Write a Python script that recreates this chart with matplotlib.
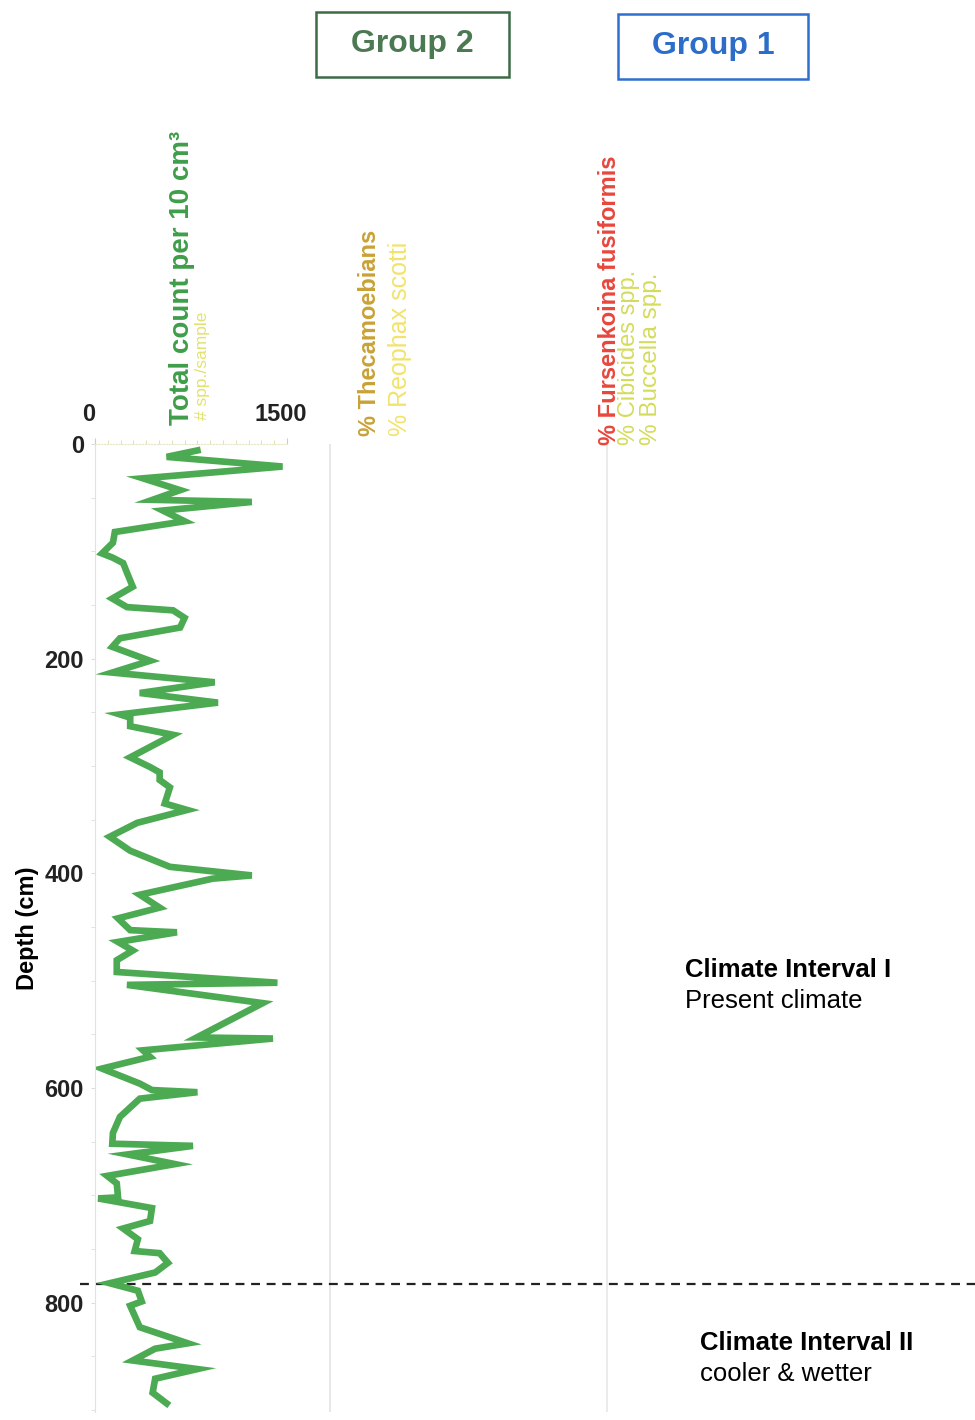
import matplotlib.pyplot as plt
import matplotlib.transforms as mtransforms
from matplotlib.ticker import MultipleLocator, FixedLocator
from matplotlib.patches import Rectangle

plt.rcParams['font.family'] = ['Liberation Sans', 'DejaVu Sans']

# total count per 10 cm3 vs depth (cm)
depth = [6, 12, 21, 32, 43, 52, 54, 62, 72, 82, 92, 102, 106, 111, 120, 133, 144, 152,
         155, 162, 171, 181, 189, 202, 213, 222, 232, 241, 252, 255, 263, 271, 292, 301,
         306, 313, 320, 335, 341, 353, 366, 379, 394, 402, 405, 420, 432, 442, 453, 455,
         464, 472, 481, 492, 502, 504, 521, 553, 554, 565, 571, 582, 596, 602, 604, 610,
         627, 642, 652, 654, 662, 671, 682, 689, 702, 703, 712, 724, 731, 741, 752, 754,
         763, 772, 782, 789, 799, 803, 823, 838, 843, 854, 862, 871, 884, 894]
count = [800, 560, 1465, 375, 665, 450, 1225, 530, 700, 155, 140, 55, 140, 220, 250, 295,
         135, 250, 610, 700, 665, 195, 135, 430, 135, 935, 350, 960, 195, 275, 275, 610,
         275, 430, 505, 505, 585, 545, 720, 330, 115, 275, 585, 1225, 920, 350, 505, 180,
         275, 640, 180, 295, 170, 170, 1425, 250, 1310, 795, 1390, 375, 430, 55, 350, 445,
         800, 350, 195, 140, 135, 765, 255, 625, 95, 170, 180, 25, 445, 430, 220, 335, 310,
         505, 570, 470, 115, 335, 365, 275, 350, 725, 470, 295, 800, 470, 450, 560]

boundary_depth = 783
W, H = 975, 1420

fig = plt.figure(figsize=(9.75, 14.2), dpi=100)

top_px, bot_px = 444, 1412
ymax = 902
y0 = 1 - bot_px / H
hgt = (bot_px - top_px) / H

# background axes for full-width items
bg = fig.add_axes([0, y0, 1, hgt])
bg.set_xlim(0, W)
bg.set_ylim(ymax, 0)
bg.axis('off')
bg.axvline(330, color='#e4e4e4', lw=1.2)
bg.axvline(607, color='#e8e8e8', lw=1.2)
bg.plot([80, W], [boundary_depth, boundary_depth], color='#222222', lw=1.6,
        linestyle=(0, (4, 3)))
bg.text(685, 490, 'Climate Interval I', fontsize=18.5, fontweight='bold', va='center')
bg.text(685, 519, 'Present climate', fontsize=18.5, va='center')
bg.text(700, 838, 'Climate Interval II', fontsize=18.5, fontweight='bold', va='center')
bg.text(700, 867, 'cooler & wetter', fontsize=18.5, va='center')

# main curve axes
ax = fig.add_axes([95 / W, y0, (287 - 95) / W, hgt])
ax.patch.set_alpha(0)
ax.plot(count, depth, color='#4caa52', lw=4.8, solid_joinstyle='miter')
ax.set_xlim(0, 1500)
ax.set_ylim(ymax, 0)
ax.xaxis.tick_top()
ax.xaxis.set_major_locator(FixedLocator([0, 1500]))
ax.xaxis.set_minor_locator(MultipleLocator(100))
ax.yaxis.set_major_locator(MultipleLocator(200))
ax.yaxis.set_minor_locator(MultipleLocator(50))
ax.tick_params(axis='x', which='major', length=4, color='#cccccc', pad=9,
               labelsize=17)
ax.tick_params(axis='x', which='minor', length=3, color='#dddd99')
ax.tick_params(axis='y', which='both', length=3, color='#dddddd', pad=5,
               labelsize=17)
for lab in ax.get_xticklabels() + ax.get_yticklabels():
    lab.set_fontweight('bold')
    lab.set_color('#222222')
shift = mtransforms.ScaledTranslation(-6 / 100, 0, fig.dpi_scale_trans)
for lab in ax.get_xticklabels():
    lab.set_transform(lab.get_transform() + shift)
ax.spines['top'].set_color('#e6e6c8')
ax.spines['top'].set_linestyle(':')
ax.spines['left'].set_color('#e2e2e2')
ax.spines['right'].set_visible(False)
ax.spines['bottom'].set_visible(False)
ax.set_ylabel('Depth (cm)', fontsize=17, fontweight='bold', labelpad=4)

# column headers
def vtext(x, ybot, s, color, size, weight='normal'):
    fig.text(x / W, 1 - ybot / H, s, rotation=90, ha='center', va='bottom',
             color=color, fontsize=size, fontweight=weight)

vtext(182, 425, 'Total count per 10 cm³', '#3f9e4a', 20, 'bold')
vtext(202, 420, '# spp./sample', '#e2e270', 12.5)
vtext(370, 436, '% Thecamoebians', '#c9a236', 17, 'bold')
vtext(400, 436, '% Reophax scotti', '#f2e36a', 18)
vtext(609, 445, '% Fursenkoina fusiformis', '#e8463c', 17, 'bold')
vtext(629, 445, '% Cibicides spp.', '#d4dc5a', 17)
vtext(651, 445, '% Buccella spp.', '#d4dc5a', 17.5)

# group boxes
fig.add_artist(Rectangle((316 / W, 1 - 77 / H), (509 - 316) / W, 65 / H,
                         transform=fig.transFigure, fc='white', ec='#3d6b45', lw=1.8))
fig.add_artist(Rectangle((618 / W, 1 - 79 / H), (808 - 618) / W, 65 / H,
                         transform=fig.transFigure, fc='white', ec='#2f6fd0', lw=1.8))
fig.text(412 / W, 1 - 44 / H, 'Group 2', ha='center', va='center', fontsize=23,
         fontweight='bold', color='#4b7a52')
fig.text(713 / W, 1 - 46 / H, 'Group 1', ha='center', va='center', fontsize=23,
         fontweight='bold', color='#2b6dc8')

fig.savefig('out.png', dpi=100)
